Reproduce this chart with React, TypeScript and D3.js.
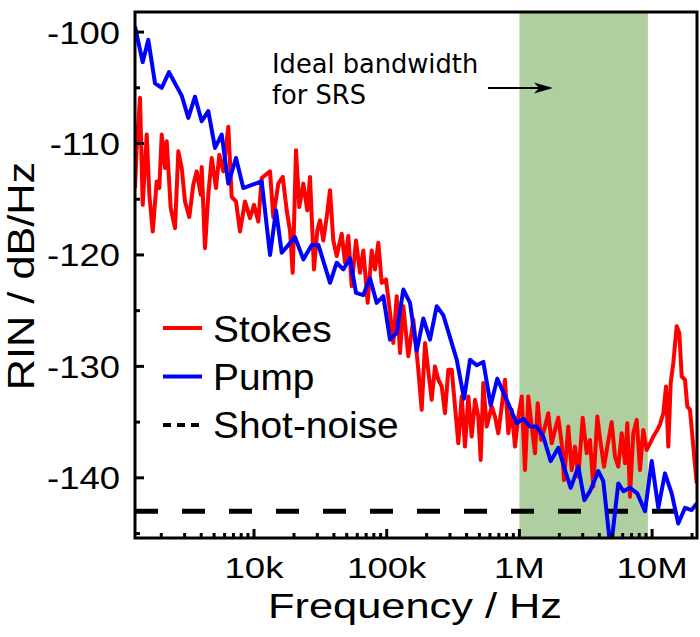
import React from "react";
import * as d3 from "d3";

const stokesFreq = [
  1268, 1306, 1383, 1449, 1554, 1626, 1725, 1848, 1934, 2016, 2135, 2199, 2357, 2540, 2689, 2852,
  3020, 3253, 3487, 3700, 3965, 4035, 4272, 4524, 4800, 5171, 5476, 5869, 6402, 6790, 7316, 7844,
  8553, 9330, 1.0e4, 1.077e4, 1.143e4, 1.32e4, 1.398e4, 1.524e4, 1.646e4, 1.764e4, 1.867e4, 1.957e4,
  2.073e4, 2.194e4, 2.353e4, 2.522e4, 2.642e4, 2.832e4, 2.999e4, 3.143e4, 3.329e4, 3.531e4, 3.739e4,
  3.959e4, 4.2e4, 4.58e4, 4.851e4, 5.136e4, 5.447e4, 5.871e4, 6.293e4, 6.664e4, 7.192e4, 7.709e4,
  8.164e4, 8.644e4, 9.17e4, 9.879e4, 1.046e5, 1.121e5, 1.19e5, 1.26e5, 1.334e5, 1.455e5, 1.587e5,
  1.731e5, 1.835e5, 1.945e5, 2.183e5, 2.312e5, 2.449e5, 2.597e5, 2.75e5, 2.912e5, 3.09e5, 3.271e5,
  3.464e5, 3.675e5, 3.891e5, 4.121e5, 4.371e5, 4.629e5, 4.901e5, 5.11e5, 5.346e5, 5.67e5, 6.185e5,
  6.55e5, 6.934e5, 7.356e5, 7.791e5, 8.249e5, 8.75e5, 9.267e5, 9.813e5, 1.041e6, 1.102e6, 1.167e6,
  1.238e6, 1.311e6, 1.374e6, 1.455e6, 1.56e6, 1.651e6, 1.752e6, 1.855e6, 1.964e6, 2.084e6, 2.169e6,
  2.337e6, 2.479e6, 2.625e6, 2.779e6, 3.0e6, 3.216e6, 3.405e6, 3.606e6, 3.865e6, 4.1e6, 4.342e6,
  4.597e6, 4.962e6, 5.254e6, 5.564e6, 5.902e6, 6.251e6, 6.505e6, 6.816e6, 7.218e6, 7.656e6, 8.108e6,
  8.585e6, 9.108e6, 9.645e6, 1.021e7, 1.083e7, 1.147e7, 1.215e7, 1.273e7, 1.325e7, 1.381e7, 1.445e7,
  1.533e7, 1.604e7, 1.672e7, 1.77e7, 1.843e7, 1.931e7, 2.045e7, 2.169e7,
];
const stokesRIN = [
  -114.0, -110.4, -105.9, -115.5, -109.2, -114.6, -117.9, -113.4, -114.0, -109.2, -112.2, -109.8,
  -115.8, -117.6, -110.7, -112.2, -115.2, -116.6, -113.7, -112.5, -114.6, -112.1, -119.4, -114.6,
  -111.3, -114.0, -111.0, -112.5, -108.5, -114.8, -115.2, -117.9, -115.2, -116.7, -115.5, -117.0,
  -113.1, -112.5, -116.6, -113.6, -113.0, -116.0, -117.8, -121.6, -110.6, -115.7, -113.6, -116.0,
  -113.0, -121.3, -117.8, -116.9, -118.7, -116.6, -114.2, -118.7, -120.1, -118.1, -120.7, -118.3,
  -122.8, -118.7, -121.6, -119.6, -124.3, -119.6, -121.3, -118.9, -122.5, -122.2, -124.6, -127.9,
  -123.7, -128.8, -124.6, -129.1, -125.8, -130.3, -133.9, -127.9, -133.0, -130.0, -131.2, -131.8,
  -134.2, -130.3, -130.3, -133.6, -136.9, -132.7, -137.2, -132.7, -136.3, -133.0, -134.5, -138.4,
  -131.5, -135.4, -133.6, -134.5, -136.0, -133.6, -131.2, -136.0, -133.9, -137.2, -134.5, -132.7,
  -139.3, -132.7, -135.4, -137.8, -133.3, -136.6, -135.4, -134.2, -136.9, -135.7, -134.6, -136.9,
  -140.2, -135.4, -139.3, -137.2, -139.9, -134.6, -137.8, -136.6, -140.8, -134.5, -136.9, -139.0,
  -137.2, -135.0, -138.1, -139.0, -136.0, -138.7, -135.1, -141.7, -136.0, -134.8, -139.3, -135.7,
  -137.5, -136.9, -136.3, -135.8, -135.2, -134.2, -131.8, -137.2, -131.5, -129.7, -126.4, -127.0,
  -130.9, -131.2, -133.6, -133.9, -137.2, -140.5,
];

const pumpFreq = [
  1268, 1449, 1597, 1795, 2015, 2287, 2851, 3199, 3591, 4033, 4525, 5082, 5709, 6402, 7316, 8301,
  1.143e4, 1.321e4, 1.465e4, 1.618e4, 2.037e4, 2.354e4, 2.724e4, 3.055e4, 3.741e4, 4.198e4, 4.71e4,
  5.285e4, 5.87e4, 6.664e4, 7.482e4, 8.408e4, 9.425e4, 1.059e5, 1.189e5, 1.334e5, 1.499e5, 1.683e5,
  1.888e5, 2.119e5, 2.381e5, 2.67e5, 3.371e5, 3.827e5, 4.247e5, 4.767e5, 5.348e5, 6.079e5, 6.81e5,
  8.018e5, 9.544e5, 1.07e6, 1.202e6, 1.349e6, 1.514e6, 1.721e6, 1.965e6, 2.206e6, 2.436e6, 2.781e6,
  3.085e6, 3.405e6, 3.935e6, 4.29e6, 4.874e6, 5.563e6, 6.068e6, 6.813e6, 7.73e6, 8.846e6, 9.938e6,
  1.114e7, 1.25e7, 1.405e7, 1.575e7, 1.77e7, 1.986e7, 2.167e7,
];
const pumpRIN = [
  -99.5, -102.7, -100.7, -104.6, -105.0, -103.6, -105.7, -107.7, -105.8, -108.0, -107.1, -110.4,
  -109.2, -113.6, -111.3, -114.0, -113.4, -120.0, -116.0, -119.8, -118.4, -120.4, -119.1, -119.1,
  -122.5, -120.7, -121.3, -120.3, -123.4, -123.6, -122.1, -124.3, -123.7, -127.6, -127.0, -123.1,
  -124.3, -128.6, -125.7, -127.6, -124.6, -125.4, -129.4, -132.9, -129.4, -129.9, -129.6, -133.5,
  -131.1, -133.0, -135.1, -134.7, -135.4, -135.4, -136.3, -138.5, -137.3, -139.3, -140.9, -139.0,
  -142.0, -141.2, -139.4, -140.3, -146.5, -140.5, -141.2, -140.9, -141.4, -143.0, -138.5, -142.7,
  -139.6, -141.4, -144.1, -142.7, -142.9, -142.3,
];

const shotNoise = -143;
const band = [1e6, 9.3e6];
const yMajor = [-100, -110, -120, -130, -140];
const yMinor = [-105, -115, -125, -135, -145];
const xMajor = [1e4, 1e5, 1e6, 1e7];
const xMajorLabels = ["10k", "100k", "1M", "10M"];
const legendLabels = ["Stokes", "Pump", "Shot-noise"];

const L = 135, R = 697, T = 12, B = 538;

export default function App() {
  const x = d3.scaleLog().domain([1268, 2.18e7]).range([L, R]);
  const y = d3.scaleLinear().domain([-145.4, -98.2]).range([B, T]);
  const line = d3
    .line<[number, number]>()
    .x((d) => x(d[0]))
    .y((d) => y(d[1]));
  const stokes = stokesFreq.map((f, i) => [f, stokesRIN[i]] as [number, number]);
  const pump = pumpFreq.map((f, i) => [f, pumpRIN[i]] as [number, number]);

  const xMinor: number[] = [];
  for (let e = 3; e <= 7; e++) {
    for (let m = 2; m <= 9; m++) {
      const v = m * Math.pow(10, e);
      if (v > 1268 && v < 2.18e7) xMinor.push(v);
    }
  }

  const font = "'Liberation Sans', Arial, sans-serif";
  const colors = ["#ff0000", "#0000ff", "#000000"];

  return (
    <svg
      width={700}
      height={637}
      style={{ position: "absolute", left: 0, top: 0, background: "#fff" }}
    >
      <defs>
        <clipPath id="plot">
          <rect x={L} y={T} width={R - L} height={B - T} />
        </clipPath>
      </defs>
      <rect x={0} y={0} width={700} height={637} fill="#fff" />
      <rect
        x={x(band[0])}
        y={T}
        width={x(band[1]) - x(band[0])}
        height={B - T}
        fill="#b0cfa0"
      />
      <g clipPath="url(#plot)">
        <line
          x1={L}
          x2={R}
          y1={y(shotNoise)}
          y2={y(shotNoise)}
          stroke="#000"
          strokeWidth={5}
          strokeDasharray="23,24"
        />
        <path d={line(stokes) || ""} fill="none" stroke="#ff0000" strokeWidth={4} strokeLinejoin="round" />
        <path d={line(pump) || ""} fill="none" stroke="#0000ff" strokeWidth={4} strokeLinejoin="round" />
      </g>
      <rect x={L} y={T} width={R - L} height={B - T} fill="none" stroke="#000" strokeWidth={3} />
      {yMajor.map((v) => (
        <line key={"ym" + v} x1={L} x2={L + 9} y1={y(v)} y2={y(v)} stroke="#000" strokeWidth={3} />
      ))}
      {yMinor.map((v) => (
        <line key={"yn" + v} x1={L} x2={L + 5} y1={y(v)} y2={y(v)} stroke="#000" strokeWidth={3} />
      ))}
      {xMajor.map((v) => (
        <line key={"xm" + v} x1={x(v)} x2={x(v)} y1={B} y2={B - 9} stroke="#000" strokeWidth={3} />
      ))}
      {xMinor.map((v) => (
        <line key={"xn" + v} x1={x(v)} x2={x(v)} y1={B} y2={B - 5} stroke="#000" strokeWidth={3} />
      ))}
      {yMajor.map((v) => (
        <text
          key={"yl" + v}
          transform={`translate(120,${y(v) + 11.5}) scale(1.14,1)`}
          textAnchor="end"
          fontFamily={font}
          fontSize={32}
          fill="#000"
        >
          {String(v)}
        </text>
      ))}
      {xMajor.map((v, i) => (
        <text
          key={"xl" + v}
          transform={`translate(${x(v)},578) scale(1.22,1)`}
          textAnchor="middle"
          fontFamily={font}
          fontSize={30}
          fill="#000"
        >
          {xMajorLabels[i]}
        </text>
      ))}
      <text
        transform="translate(415,618) scale(1.24,1)"
        textAnchor="middle"
        fontFamily={font}
        fontSize={35}
        fill="#000"
      >
        Frequency / Hz
      </text>
      <text
        transform="translate(34,276) rotate(-90) scale(1.17,1)"
        textAnchor="middle"
        fontFamily={font}
        fontSize={37}
        fill="#000"
      >
        RIN / dB/Hz
      </text>
      {legendLabels.map((lab, i) => (
        <g key={lab}>
          <line
            x1={163}
            x2={202}
            y1={328 + i * 48.5}
            y2={328 + i * 48.5}
            stroke={colors[i]}
            strokeWidth={4}
            strokeDasharray={i === 2 ? "8,6" : undefined}
          />
          <text
            transform={`translate(213,${342 + i * 48}) scale(1.05,1)`}
            fontFamily={font}
            fontSize={37}
            fill="#000"
          >
            {lab}
          </text>
        </g>
      ))}
      <text x={272} y={73} fontFamily="'DejaVu Sans', sans-serif" fontSize={25.7} fill="#000">
        Ideal bandwidth
      </text>
      <text x={272} y={104} fontFamily="'DejaVu Sans', sans-serif" fontSize={25.7} fill="#000">
        for SRS
      </text>
      <line x1={488} x2={542} y1={88} y2={88} stroke="#000" strokeWidth={2} />
      <path d="M553,88 L534,82.5 L539,88 L534,93.5 Z" fill="#000" />
    </svg>
  );
}
